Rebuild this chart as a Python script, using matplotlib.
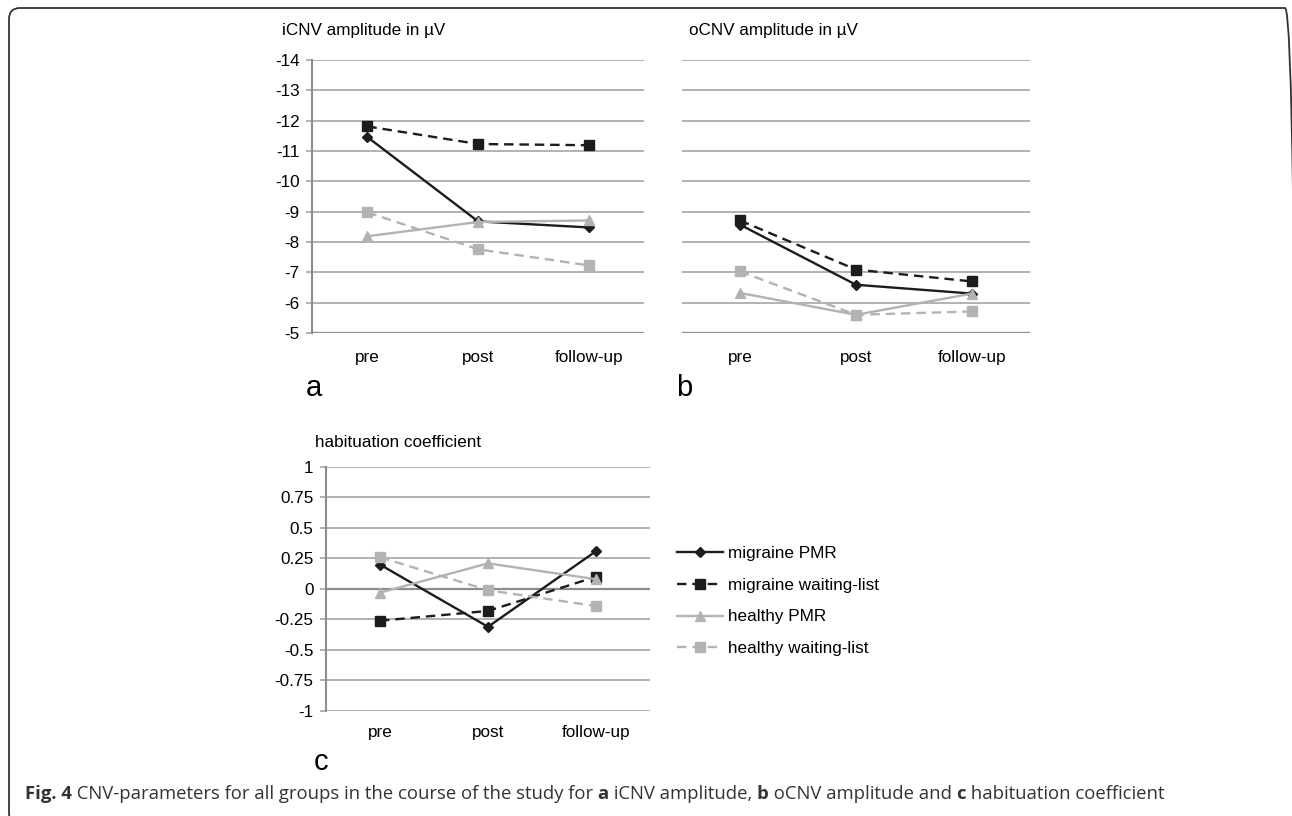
import matplotlib
matplotlib.use('Agg')
import matplotlib.pyplot as plt
from matplotlib.patches import FancyBboxPatch
from matplotlib.transforms import IdentityTransform

plt.rcParams['font.family'] = ['Liberation Sans', 'DejaVu Sans']

categories = ['pre', 'post', 'follow-up']
series_names = ['migraine PMR', 'migraine waiting-list', 'healthy PMR', 'healthy waiting-list']

icnv_mig_pmr = [-11.46, -8.68, -8.48]
icnv_mig_wl = [-11.81, -11.23, -11.19]
icnv_hea_pmr = [-8.19, -8.66, -8.71]
icnv_hea_wl = [-8.98, -7.76, -7.23]

ocnv_mig_pmr = [-8.57, -6.59, -6.30]
ocnv_mig_wl = [-8.71, -7.09, -6.70]
ocnv_hea_pmr = [-6.32, -5.60, -6.30]
ocnv_hea_wl = [-7.03, -5.60, -5.71]

hab_mig_pmr = [0.20, -0.31, 0.31]
hab_mig_wl = [-0.26, -0.18, 0.10]
hab_hea_pmr = [-0.03, 0.21, 0.08]
hab_hea_wl = [0.26, -0.01, -0.14]

amp_ticks = [-14, -13, -12, -11, -10, -9, -8, -7, -6, -5]
hab_ticks = [1, 0.75, 0.5, 0.25, 0, -0.25, -0.5, -0.75, -1]
hab_labels = ['1', '0.75', '0.5', '0.25', '0', '-0.25', '-0.5', '-0.75', '-1']

BLACK = '#1c1c1c'
GRAY = '#b3b3b3'
GRID = '#a6a6a6'
AXIS = '#8c8c8c'
styles = [
    dict(color=BLACK, ls='-', marker='D', ms=5),
    dict(color=BLACK, ls=(0, (4, 2.5)), marker='s', ms=6.5),
    dict(color=GRAY, ls='-', marker='^', ms=6.5),
    dict(color=GRAY, ls=(0, (4, 2.5)), marker='s', ms=6.5),
]
FS = 12.3

fig = plt.figure(figsize=(12.92, 8.16), dpi=100)


def panel(rect, data, ylim, ticks, labels, title, letter, show_y=True, axis_at=None):
    ax = fig.add_axes(rect)
    x = range(len(categories))
    lines = []
    for vals, st in zip(data, styles):
        ln, = ax.plot(x, vals, lw=1.7, mec=st['color'], mfc=st['color'], **st)
        lines.append(ln)
    ax.set_xlim(-0.5, 2.5)
    ax.set_ylim(*ylim)
    ax.set_yticks(ticks)
    ax.set_xticks(list(x))
    ax.set_xticklabels(categories, fontsize=FS)
    ax.tick_params(axis='x', length=0, pad=12)
    for s in ['top', 'right', 'bottom']:
        ax.spines[s].set_visible(False)
    if show_y:
        ax.set_yticklabels(labels, fontsize=FS)
        ax.tick_params(axis='y', length=4, color=GRID, width=1.2, pad=5)
        ax.spines['left'].set_color(AXIS)
        ax.spines['left'].set_linewidth(1.5)
    else:
        ax.set_yticklabels([])
        ax.tick_params(axis='y', length=0)
        ax.spines['left'].set_visible(False)
    for t in ticks:
        if t == axis_at:
            ax.axhline(t, color=AXIS, lw=1.6, zorder=1)
        else:
            ax.axhline(t, color=GRID, lw=1.2, zorder=1)
    ax.set_facecolor('none')
    ax.text(0.0 if show_y else 0.02, 1.08, title, transform=ax.transAxes,
            fontsize=FS, ha='left', va='bottom')
    ax.text(0.0, -0.2, letter, transform=ax.transAxes, fontsize=21,
            ha='left', va='center')
    return ax, lines


ax_a, lines = panel([0.2415, 0.5919, 0.257, 0.3346],
                    [icnv_mig_pmr, icnv_mig_wl, icnv_hea_pmr, icnv_hea_wl],
                    (-5, -14), amp_ticks, [str(t) for t in amp_ticks],
                    'iCNV amplitude in µV', 'a', axis_at=-5)
ax_a.texts[0].set_x(-0.09)
ax_a.texts[1].set_x(-0.02)

ax_b, _ = panel([0.5279, 0.5919, 0.2693, 0.3346],
                [ocnv_mig_pmr, ocnv_mig_wl, ocnv_hea_pmr, ocnv_hea_wl],
                (-5, -14), amp_ticks, [str(t) for t in amp_ticks],
                'oCNV amplitude in µV', 'b', show_y=False, axis_at=-5)
ax_b.texts[1].set_x(-0.017)

ax_c, _ = panel([0.2523, 0.1287, 0.2508, 0.299],
                [hab_mig_pmr, hab_mig_wl, hab_hea_pmr, hab_hea_wl],
                (-1, 1), hab_ticks, hab_labels,
                'habituation coefficient', 'c', axis_at=0)
ax_c.tick_params(axis='x', pad=10)
ax_c.texts[0].set_x(-0.035)
ax_c.texts[0].set_y(1.07)
ax_c.texts[1].set_x(-0.038)
ax_c.texts[1].set_y(-0.21)

fig.legend(lines, series_names, loc='upper left', frameon=False,
           bbox_to_anchor=(677 / 1292, (816 - 546) / 816), fontsize=FS,
           handlelength=2.7, handletextpad=0.3, labelspacing=0.98, borderpad=0,
           borderaxespad=0)

# caption with bold parts
caption = [('Fig. 4', 'bold'),
           (' CNV-parameters for all groups in the course of the study for ', 'normal'),
           ('a', 'bold'), (' iCNV amplitude, ', 'normal'),
           ('b', 'bold'), (' oCNV amplitude and ', 'normal'),
           ('c', 'bold'), (' habituation coefficient', 'normal')]
renderer = fig.canvas.get_renderer()
xpos = 25
for txt, w in caption:
    t = fig.text(xpos, 816 - 799, txt, transform=IdentityTransform(),
                 fontsize=13.3, weight=w, color='#333333', va='baseline', ha='left',
                 family=['Open Sans', 'DejaVu Sans'])
    xpos += t.get_window_extent(renderer).width

# rounded page frame
frame = FancyBboxPatch((9, -8), 1287, 816, boxstyle='round,pad=0,rounding_size=11',
                       transform=IdentityTransform(), fill=False, ec='#333333', lw=1.3)
fig.add_artist(frame)

fig.savefig('out.png', dpi=100)
